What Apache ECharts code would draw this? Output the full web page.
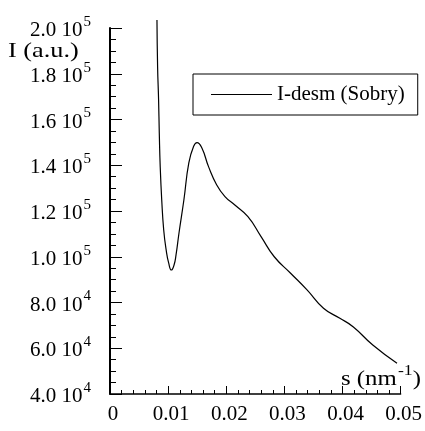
<!DOCTYPE html>
<html>
<head>
<meta charset="utf-8">
<script src="https://cdn.jsdelivr.net/npm/echarts@6/dist/echarts.min.js"></script>
<style>
html,body{margin:0;padding:0;background:#fff;}
#c{width:425px;height:431px;}
</style>
</head>
<body>
<div id="c"></div>
<script>
// scattering vector s (nm^-1)
const sValues = [0.00808,0.00819,0.00836,0.00848,0.00864,0.0089,0.00924,0.00966,0.01009,0.01056,0.01102,0.01136,0.01187,0.01271,0.01356,0.01441,0.01497,0.01581,0.01695,0.01836,0.01978,0.02148,0.02373,0.02599,0.02826,0.03107,0.0339,0.03673,0.03955,0.04182,0.04521,0.04938];
// intensity I (a.u.)
const intensity = [203500,183000,168500,154100,139200,124800,111700,103000,97300,94200,96400,100800,110400,124800,141000,148400,149900,147500,139400,131400,126300,122600,117500,108800,100000,92800,85500,77500,73100,69400,61400,53400];
const seriesName = 'I-desm (Sobry)';
const xTickLabels = ['0','0.01','0.02','0.03','0.04','0.05'];
const yTickLabels = ['4.0 10^4','6.0 10^4','8.0 10^4','1.0 10^5','1.2 10^5','1.4 10^5','1.6 10^5','1.8 10^5','2.0 10^5'];

const serif = '"Liberation Serif","Times New Roman",serif';
const chart = echarts.init(document.getElementById('c'));
const points = sValues.map((s,i)=>[s,intensity[i]]);

function yLabel(v){
  const idx = Math.round((v-40000)/20000);
  const t = yTickLabels[idx];
  if(!t) return '';
  const [m,e] = t.split('^');
  return '{a|' + m + '}{b|' + e + '}';
}

chart.setOption({
  animation:false,
  backgroundColor:'#fff',
  grid:{left:110,right:20,top:28,bottom:37,containLabel:false},
  legend:{
    left:193, top:74,
    data:[{name:seriesName, icon:'rect'}],
    itemWidth:61, itemHeight:1.2,
    itemGap:5,
    borderColor:'#000', borderWidth:1, borderRadius:0,
    padding:[10,13,10,18],
    textStyle:{fontFamily:serif,fontSize:21,color:'#000',padding:[0,0,0,0]}
  },
  xAxis:{
    type:'value', min:0, max:0.05, interval:0.01,
    axisLine:{lineStyle:{color:'#000',width:1.5}},
    axisTick:{inside:true,length:8,lineStyle:{color:'#000',width:1}},
    minorTick:{show:true,splitNumber:5,length:4,lineStyle:{color:'#000',width:1}},
    splitLine:{show:false},
    axisLabel:{
      margin:10, color:'#000', fontFamily:serif, fontSize:21,
      padding:[0,0,0,6],
      formatter:(v)=>{const i=Math.round(v/0.01);return xTickLabels[i]!==undefined?xTickLabels[i]:'';}
    }
  },
  yAxis:{
    type:'value', min:40000, max:200000, interval:20000,
    axisLine:{show:true,lineStyle:{color:'#000',width:2}},
    axisTick:{inside:true,length:12,lineStyle:{color:'#000',width:1}},
    minorTick:{show:true,splitNumber:4,length:6,lineStyle:{color:'#000',width:1}},
    splitLine:{show:false},
    axisLabel:{
      margin:19, color:'#000',
      formatter:yLabel,
      rich:{
        a:{fontFamily:serif,fontSize:21,color:'#000',padding:[5,0,0,0]},
        b:{fontFamily:serif,fontSize:15,color:'#000',padding:[0,0,12,1]}
      }
    }
  },
  graphic:[
    {type:'text',left:8,top:41,scaleX:1.25,style:{text:'I (a.u.)',font:'21px "Liberation Serif",serif',fill:'#000'}},
    {type:'text',left:341,top:364,scaleX:1.18,style:{
      text:'{a|s (nm}{b|-1}{a|)}',
      rich:{
        a:{fontFamily:serif,fontSize:21,fill:'#000',padding:[8,0,0,0]},
        b:{fontFamily:serif,fontSize:15,fill:'#000',padding:[0,0,8,1]}
      }
    }}
  ],
  series:[{
    name:seriesName, type:'line', data:points,
    showSymbol:false, symbol:'none',
    smooth:0.5,
    clip:false,
    lineStyle:{color:'#000',width:1.2},
    itemStyle:{color:'#000'}
  }]
});
</script>
</body>
</html>
